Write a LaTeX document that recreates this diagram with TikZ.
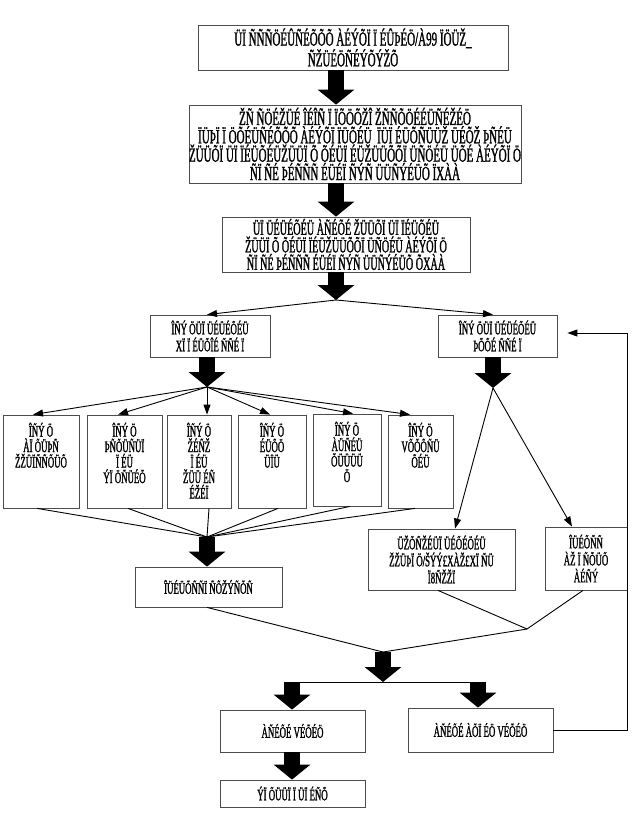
\documentclass[tikz,border=0pt]{standalone}
\usepackage{fontspec}
\setmainfont{Liberation Serif}[FakeStretch=0.55,FakeBold=1.2]
\usetikzlibrary{arrows.meta,calc}
\begin{document}
\begin{tikzpicture}[x=1pt,y=-1pt,
  box/.style={draw=black!70,line width=0.8pt,inner sep=0pt,align=center,font=\fontsize{16}{17}\selectfont},
  bigbox/.style={box,font=\fontsize{20}{17}\selectfont},
  txt/.style={inner sep=0pt,align=center,font=\fontsize{16}{15.5}\selectfont},
  fat/.style={line width=16pt,-{Triangle[width=36pt,length=15pt]}},
  thin/.style={line width=0.9pt,-{Triangle[length=10pt,width=7pt]}},
  plain/.style={line width=0.9pt}]
\useasboundingbox (0,0) rectangle (640,816);
% main boxes
\node[bigbox,minimum width=310pt,minimum height=45pt,font=\fontsize{20}{18}\selectfont] (b1) at (353,47.5) {ÜÏ ÑÑÑÖÉÛÑÉÕÕÕ ÀÉÝÕÏ Ï ÉÛÞÉÖ/À99 ÏÖÜŽ\_\\ÑŽÜÉÖÑÉÝÕÝŽÕ};
\node[bigbox,minimum width=314pt,minimum height=78pt] (b2) at (355,144) {ŽÑ ÑÖÉŽÜÉ ÎÉÎÑ Ï ÏÕÖÕŽÎ ŽÑÑÕÖÉÉÜÑÉŽÉÖ\\ÏÜÞÏ Ï ÖÕÉÜÑÉÕÕÕ ÀÉÝÕÏ ÏÜÕÉÜ \ ÏÜÏ ÉÜÕÑÜÜŽ ÜÉÕŽ ÞÑÉÜ\\ŽÜÜÕÏ ÜÏ ÏÉÜÕÉÜŽÜÜÏ Õ ÕÉÜÏ ÉÜŽÜÜÕÕÏ ÜÑÖÉÜ ÜÕÉ ÀÉÝÕÏ Ö\\ÑÏ ÑÉ ÞÉÑÑÑ ÉÜÉÏ ÑÝÑ ÜÜÑÝÉÜÕ ÏXÀÀ};
\node[bigbox,minimum width=248pt,minimum height=55pt,font=\fontsize{18.5}{17.5}\selectfont] (b3) at (346,244.5) {ÜÏ ÜÉÜÉÕÉÜ ÀÑÉÕÉ ŽÜÜÕÏ ÜÏ ÏÉÜÕÉÜ\\ŽÜÜÏ Õ ÕÉÜÏ ÏÉÜŽÜÜÕÕÏ ÜÑÖÉÜ ÀÉÝÕÏ Ö\\ÑÏ ÑÉ ÞÉÑÑÑ ÉÜÉÏ ÑÝÑ ÜÜÑÝÉÜÕ ÕXÀÀ};
\node[box,minimum width=120pt,minimum height=42pt] (b4) at (210,336) {ÎÑÝ ÖÜÏ ÜÉÜÉÕÉÜ\\XÏ Ï ÉÜÕÎÉ ÑÑÉ Ï};
\node[box,minimum width=119pt,minimum height=42pt] (b5) at (497.5,336) {ÎÑÝ ÖÜÏ ÜÉÜÉÕÉÜ\\ÞÕÕÉ ÑÑÉ Ï};
% six boxes
\node[box,minimum width=76pt,minimum height=93pt] (sa) at (41,461.5) {};
\node[box,minimum width=75pt,minimum height=93pt] (sb) at (124.5,461.5) {};
\node[box,minimum width=64pt,minimum height=93pt] (sc) at (199,461.5) {};
\node[box,minimum width=68pt,minimum height=93pt] (sd) at (272,461.5) {};
\node[box,minimum width=68pt,minimum height=92pt] (se) at (347,460) {};
\node[box,minimum width=65pt,minimum height=93pt] (sf) at (420.5,461.5) {};
\node[txt,anchor=north] (ta) at ([yshift=-8pt]sa.north) {ÎÑÝ Ö\\ÀÏ ÕÜÞÑ\\ŽŽÜÏÑÑÕÜÕ};
\node[txt,anchor=north] (tb) at ([yshift=-8pt]sb.north) {ÎÑÝ Ö\\ÞÑÕÜÑÜÏ\\Ï ÉÜ\\ÝÏ ÖÑÜÉÕ};
\node[txt,anchor=north] (tc) at ([yshift=-8pt]sc.north) {ÎÑÝ Ö\\ŽÉÑŽ\\Ï ÉÜ\\ŽÜÜ ÉÑ\\ÉŽÉÏ};
\node[txt,anchor=north] (td) at ([yshift=-8pt]sd.north) {ÎÑÝ Ö\\ÉÜÕÖ\\ÜÏÜ};
\node[txt,anchor=north] (te) at ([yshift=-8pt]se.north) {ÎÑÝ Ö\\ÀÜÑÉÜ\\ÕÜÜÜÜ\\Ö};
\node[txt,anchor=north] (tf) at ([yshift=-8pt]sf.north) {ÎÑÝ Ö\\VÕÕÕÑÜ\\ÕÉÜ};
% lower boxes
\node[box,minimum width=147pt,minimum height=40pt] (g) at (208.5,587) {ÎÜÉÜÕÑÑÏ ÑÕŽÝÑÕÑ};
\node[box,minimum width=147pt,minimum height=61pt] (h) at (441.5,559.5) {ÜŽÕÑŽÉÜÏ ÜÉÕÉÖÉÜ\\ŽŽÜÞÏ Ö/ŠÝÝ£XÀŽ£XÏ ÑÜ\\Ï8ÑŽŽÏ};
\node[box,minimum width=82pt,minimum height=63pt] (i) at (586,558.5) {ÎÜÉÕÑÑ\\ÀŽ Ï ÑÕÜÕ\\ÀÉÑÝ};
\node[box,minimum width=145pt,minimum height=42pt] (j) at (292.5,731) {ÀÑÉÕÉ VÉÕÉÖ};
\node[box,minimum width=145pt,minimum height=44pt] (k) at (480.5,730) {ÀÑÉÕÉ ÀÕÏ ÉÖ VÉÕÉÖ};
\node[box,minimum width=145pt,minimum height=27pt] (l) at (292.5,793.5) {ÝÏ ÕÜÜÏ Ï ÜÏ ÉÑÕ};
% junction coordinates
\coordinate (f1) at (336,300);
\coordinate (f2) at (207,387);
\coordinate (f3) at (207,537);
\coordinate (f4) at (493,388);
\coordinate (f5) at (527,629);
\coordinate (f6) at (383,652);
\coordinate (f7) at (383,682);
\coordinate (fl) at (292,682);
\coordinate (fr) at (478,682);
\coordinate (r1) at (627,730);
\coordinate (r2) at (627,333);
% fat arrows
\draw[fat] (336,0 |- b1.south) -- (336,0 |- b2.north);
\draw[fat] (336,0 |- b2.south) -- (336,0 |- b3.north);
\draw[fat] (336,0 |- b3.south) -- (f1);
\draw[fat] (207,0 |- b4.south) -- (f2);
\draw[fat] (493,0 |- b5.south) -- (f4);
\draw[fat] (f3) -- (207,0 |- g.north);
\draw[fat] (f6) -- (f7);
\draw[plain] (fl) -- (fr);
\draw[fat] (fl) -- (292,0 |- j.north);
\draw[fat] (fr) -- (478,0 |- k.north);
\draw[fat] (292,0 |- j.south) -- (292,0 |- l.north);
% thin arrows
\draw[thin] (f1) -- (207,0 |- b4.north);
\draw[thin] (f1) -- (493,0 |- b5.north);
\draw[thin] (f2) -- (33,0 |- sa.north);
\draw[thin] (f2) -- (118,0 |- sb.north);
\draw[thin] (f2) -- (207,0 |- sc.north);
\draw[thin] (f2) -- (270,0 |- sd.north);
\draw[thin] (f2) -- (353,0 |- se.north);
\draw[thin] (f2) -- (410,0 |- sf.north);
\draw[thin] (f4) -- (455,0 |- h.north);
\draw[thin] (f4) -- (572,0 |- i.north);
% converging lines
\draw[plain] (37,0 |- sa.south) -- (f3);
\draw[plain] (128,0 |- sb.south) -- (f3);
\draw[plain] (209,0 |- sc.south) -- (f3);
\draw[plain] (278,0 |- sd.south) -- (f3);
\draw[plain] (350,0 |- se.south) -- (f3);
\draw[plain] (415,0 |- sf.south) -- (f3);
\draw[plain] (207,0 |- g.south) -- (f6);
\draw[plain] (438,0 |- h.south) -- (f5);
\draw[plain] (583,0 |- i.south) -- (f5);
\draw[plain] (f5) -- (f6);
% feedback
\draw[plain] (k.east) -- (r1) -- (r2);
\draw[thin,shorten >=10pt] (r2) -- (b5.east |- r2);
\end{tikzpicture}
\end{document}
